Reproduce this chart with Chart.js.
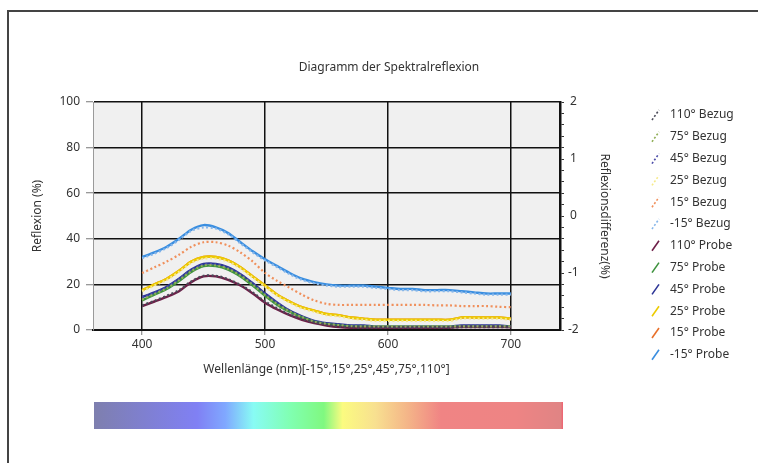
<!DOCTYPE html>
<html>
<head>
<meta charset="utf-8">
<script src="https://cdn.jsdelivr.net/npm/chart.js@4/dist/chart.umd.min.js"></script>
<style>
  html, body { margin: 0; padding: 0; background: #ffffff; }
  #wrap { position: relative; width: 758px; height: 463px; }
  canvas { display: block; }
</style>
</head>
<body>
<div id="wrap"><canvas id="c" width="758" height="463"></canvas></div>
<script>
// Wavelengths (nm) sampled every 10 nm
const wavelengths = [400,410,420,430,440,450,460,470,480,490,500,510,520,530,540,550,560,570,580,590,600,610,620,630,640,650,660,670,680,690,700];

// Reference measurements (Bezug), reflexion in %
const bezug110 = [10.8,12.8,15,17.5,21.3,23.8,23.8,22.3,19.8,16.5,12.5,9.5,6.8,4.8,3.3,2.3,1.5,1.2,1,1,1,1,1,1,1,1,1.2,1.2,1.2,1.2,1.2];
const bezug75  = [13.3,15.8,18.3,21.8,25.8,28.3,28.3,26.8,23.8,19.8,15.3,11.3,8.2,5.7,3.7,2.7,2.2,1.7,1.6,1.6,1.6,1.6,1.6,1.6,1.6,1.6,1.6,1.6,1.6,1.6,1.6];
const bezug45  = [14.3,16.3,18.8,22.3,26.3,28.8,28.8,27.3,24.3,20.3,15.8,11.8,8.3,5.8,3.8,2.8,2.3,1.8,1.8,1.5,1.5,1.5,1.5,1.5,1.5,1.5,1.8,1.8,1.8,1.8,1.5];
const bezug25  = [17,19.5,22,25.5,29.5,31.3,31.3,30,27,23,19,15,12,9.5,8,6.5,6,5,4.5,4,4,4,4,4,4,4,5,5,5,5,4.5];
const bezug15  = [25,27.5,30,33,36.5,38.5,38.5,37,34,30,25,21.5,18.5,15.5,13,11.5,11,11,11,11,11,11,11,11,10.8,10.8,10.5,10.5,10.5,10.2,10];
const bezugM15 = [31.5,33.5,36,39.5,43.5,45,44.5,42,38,34,30.5,27.5,24.5,22,20.5,19.5,19,19,19,18.5,18,17.5,17.5,17,17,17,16.5,16,15.5,15.5,15.5];

// Sample measurements (Probe), reflexion in %
const probe110 = [10.5,12.5,14.5,17,21,23.5,23.5,22,19.5,16,12,9,6.5,4.5,3,2,1.3,1,1,1,1,1,1,1,1,1,1.3,1.3,1.3,1.3,1.2];
const probe75  = [13,15.5,18,21.5,25.5,28,28,26.5,23.5,19.5,15,11,8,5.5,3.5,2.5,2,1.5,1.5,1.5,1.5,1.5,1.5,1.5,1.5,1.5,1.5,1.5,1.5,1.5,1.5];
const probe45  = [14.5,16.5,19,22.5,26.5,29,29,27.5,24.5,20.5,16,12,8.5,6,4,3,2.5,2,2,1.5,1.5,1.5,1.5,1.5,1.5,1.5,2,2,2,2,1.5];
const probe25  = [17.5,20,22.5,26,30,32,32,30.5,27.5,23.5,19.5,15.5,12.5,10,8.5,7,6.5,5.5,5,4.5,4.5,4.5,4.5,4.5,4.5,4.5,5.5,5.5,5.5,5.5,5];
const probe15  = [17.5,20,22.5,26,30,32,32,30.5,27.5,23.5,19.5,15.5,12.5,10,8.5,7,6.5,5.5,5,4.5,4.5,4.5,4.5,4.5,4.5,4.5,5.5,5.5,5.5,5.5,5];
const probeM15 = [32,34,36.5,40,44,46,45,42.5,38.5,34.5,31,28,25,22.5,21,20,19.5,19.5,19.5,19,18.5,18,18,17.5,17.5,17.5,17,16.5,16,16,16];

// Axis ticks
const xTicks = [400, 500, 600, 700];
const yTicks = [0, 20, 40, 60, 80, 100];
const diffTicks = [-2, -1, 0, 1, 2];

const chartTitle = 'Diagramm der Spektralreflexion';
const seriesNames = ['110° Bezug','75° Bezug','45° Bezug','25° Bezug','15° Bezug','-15° Bezug',
                     '110° Probe','75° Probe','45° Probe','25° Probe','15° Probe','-15° Probe'];
const seriesValues = [bezug110, bezug75, bezug45, bezug25, bezug15, bezugM15,
                      probe110, probe75, probe45, probe25, probe15, probeM15];
const seriesColors = ['#4a4a58','#8fae55','#4c4ca8','#f6ea8a','#f0905c','#86b6ea',
                      '#6e1f48','#3d923d','#2c3596','#eccb00','#e8702a','#3a8ee0'];
// drawing order: lower numbers end up on top
const seriesOrder = [0,0,0,0,0,0, 1,1,1,1,2,1];

const FONT = '"Noto Sans", "Open Sans", sans-serif';
const TEXT = '#333333';

const datasets = seriesValues.map((vals, i) => {
  const isRef = i < 6;
  return {
    label: seriesNames[i],
    data: vals.map((v, k) => ({ x: wavelengths[k], y: v })),
    borderColor: seriesColors[i],
    backgroundColor: seriesColors[i],
    borderWidth: isRef ? 2.2 : 2.4,
    borderDash: isRef ? [2, 2.5] : [],
    pointRadius: 0,
    tension: 0.3,
    fill: false,
    yAxisID: 'y',
    order: seriesOrder[i]
  };
});

// Plot background, page frame, title, spectrum strip and the side legend
const decorations = {
  id: 'decorations',
  beforeDraw(chart) {
    const { ctx, chartArea: a } = chart;
    ctx.save();
    ctx.fillStyle = '#f0f0f0';
    ctx.fillRect(a.left, a.top, a.right - a.left, a.bottom - a.top);
    ctx.restore();
  },
  afterDraw(chart) {
    const { ctx } = chart;
    ctx.save();
    // frame
    ctx.strokeStyle = '#444444';
    ctx.lineWidth = 2;
    ctx.beginPath();
    ctx.moveTo(8, 463);
    ctx.lineTo(8, 11);
    ctx.lineTo(758, 11);
    ctx.stroke();

    // title
    ctx.font = '12px ' + FONT;
    ctx.fillStyle = TEXT;
    ctx.textAlign = 'center';
    ctx.textBaseline = 'middle';
    ctx.fillText(chartTitle, 389, 68);

    // spectrum strip
    const sx = 94, sw = 469, sy = 402, sh = 27;
    const g = ctx.createLinearGradient(sx, 0, sx + sw, 0);
    g.addColorStop(0.00, '#7e7fae');
    g.addColorStop(0.22, '#8080f4');
    g.addColorStop(0.28, '#80a8ff');
    g.addColorStop(0.34, '#88fbf4');
    g.addColorStop(0.42, '#80ffb0');
    g.addColorStop(0.49, '#80f880');
    g.addColorStop(0.53, '#fbfb80');
    g.addColorStop(0.60, '#f8e090');
    g.addColorStop(0.67, '#f4b488');
    g.addColorStop(0.74, '#f08484');
    g.addColorStop(0.90, '#ee8484');
    g.addColorStop(0.995, '#e08484');
    g.addColorStop(1.00, '#f06070');
    ctx.fillStyle = g;
    ctx.fillRect(sx, sy, sw, sh);

    // legend
    ctx.font = '12px ' + FONT;
    ctx.textBaseline = 'middle';
    ctx.textAlign = 'left';
    chart.data.datasets.forEach((ds, i) => {
      const y = 115 + i * 21.8;
      ctx.strokeStyle = ds.borderColor;
      ctx.lineWidth = 1.6;
      ctx.setLineDash(i < 6 ? [2, 2] : []);
      ctx.beginPath();
      ctx.moveTo(652, y + 5);
      ctx.lineTo(659, y - 5);
      ctx.stroke();
      ctx.setLineDash([]);
      ctx.fillStyle = TEXT;
      ctx.fillText(ds.label, 670, y);
    });
    ctx.restore();
  }
};

new Chart(document.getElementById('c'), {
  type: 'line',
  data: { datasets },
  plugins: [decorations],
  options: {
    responsive: false,
    animation: false,
    devicePixelRatio: 1,
    layout: { padding: { left: 30, right: 146, top: 102, bottom: 86 } },
    plugins: {
      legend: { display: false },
      tooltip: { enabled: false },
      title: { display: false }
    },
    scales: {
      x: {
        type: 'linear',
        position: 'bottom',
        min: 360,
        max: 740,
        afterBuildTicks: (s) => { s.ticks = xTicks.map(v => ({ value: v })); },
        afterFit: (s) => { s.height = 47; },
        grid: { color: '#111111', lineWidth: 1.5, tickLength: 5, tickColor: '#777777', tickWidth: 1 },
        border: { display: true, color: '#111111', width: 2 },
        ticks: { color: TEXT, font: { family: FONT, size: 12 }, padding: 2, maxRotation: 0 },
        title: {
          display: true,
          text: 'Wellenlänge (nm)[-15°,15°,25°,45°,75°,110°]',
          color: TEXT,
          font: { family: FONT, size: 12 },
          padding: 0
        }
      },
      y: {
        position: 'left',
        min: 0,
        max: 100,
        afterBuildTicks: (s) => { s.ticks = yTicks.map(v => ({ value: v })); },
        afterFit: (s) => { s.width = 63; },
        grid: { color: '#111111', lineWidth: 1.5, tickLength: 7, tickColor: '#777777', tickWidth: 1 },
        border: { display: true, color: '#9a9a9a', width: 1 },
        ticks: { color: TEXT, font: { family: FONT, size: 12 }, padding: 6 },
        title: {
          display: true,
          text: 'Reflexion (%)',
          color: TEXT,
          font: { family: FONT, size: 12 },
          padding: 0
        }
      },
      y1: {
        position: 'right',
        min: -2,
        max: 2,
        afterBuildTicks: (s) => {
          const t = [];
          for (let k = -10; k <= 10; k++) t.push({ value: k / 5 });
          s.ticks = t;
        },
        afterFit: (s) => { s.width = 52; },
        grid: { drawOnChartArea: false, tickLength: 4, tickColor: '#333333', tickWidth: 1 },
        border: { display: true, color: '#111111', width: 2.5 },
        ticks: {
          autoSkip: false,
          color: TEXT,
          font: { family: FONT, size: 12 },
          padding: 4,
          crossAlign: 'center',
          callback: (v) => {
            const r = Math.round(v);
            return (Math.abs(v - r) < 1e-6 && diffTicks.includes(r)) ? String(r) : '';
          }
        },
        title: {
          display: true,
          text: 'Reflexionsdifferenz(%)',
          color: TEXT,
          font: { family: FONT, size: 12 },
          padding: 0
        }
      }
    }
  }
});
</script>
</body>
</html>
